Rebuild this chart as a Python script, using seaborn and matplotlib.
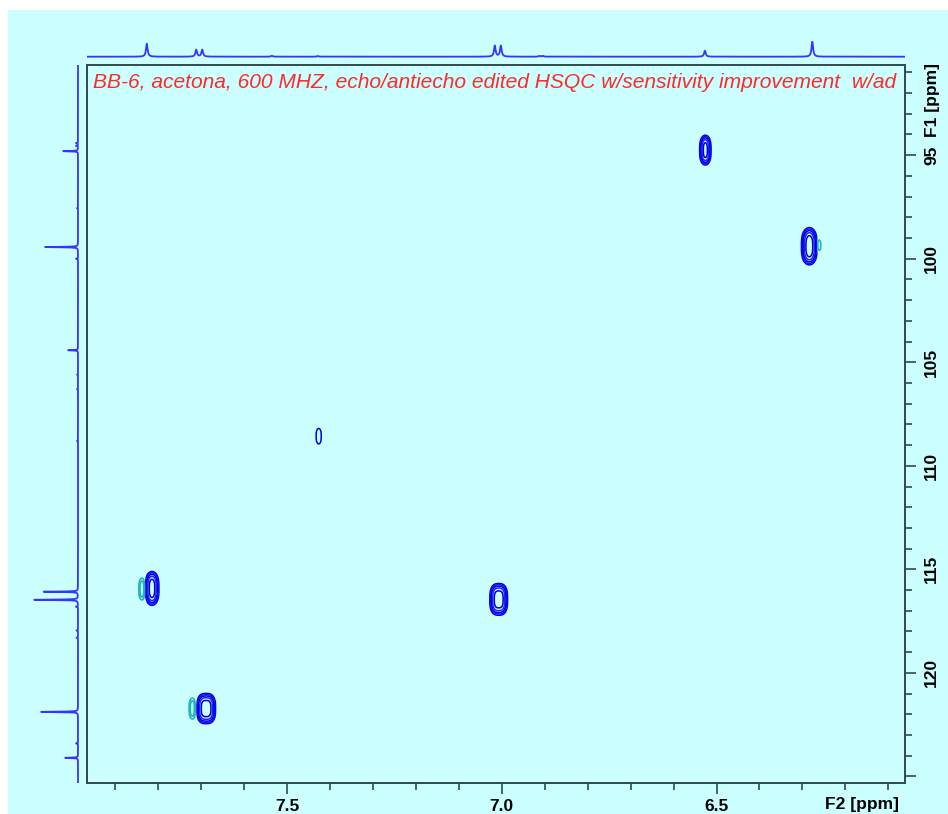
import numpy as np
import pandas as pd
import matplotlib
matplotlib.use("Agg")
import matplotlib.pyplot as plt
from matplotlib.patches import Rectangle
import seaborn as sns

# ---------------- data ----------------
title_text = "BB-6, acetona, 600 MHZ, echo/antiecho edited HSQC w/sensitivity improvement  w/ad"

# 1H projection (F2): peak positions (ppm) and heights
h_ppm = [7.826, 7.711, 7.697, 7.535, 7.428, 7.016, 7.002, 6.912, 6.904, 6.527, 6.277]
h_int = [13.0, 7.0, 7.0, 0.9, 0.7, 11.0, 11.0, 0.8, 0.8, 6.0, 15.0]

# 13C projection (F1): peak positions (ppm) and heights
c_ppm = [94.42, 94.55, 94.81, 97.56, 99.44, 100.0, 104.42, 105.6, 106.3, 108.8,
         116.08, 116.47, 116.8, 117.95, 118.3, 121.88, 123.4, 124.1]
c_int = [2.0, 2.0, 15.0, 1.0, 33.0, 2.0, 10.0, 1.0, 1.0, 1.0,
         35.0, 44.0, 2.0, 1.5, 1.5, 37.0, 2.0, 13.0]

# HSQC cross peaks: F2 (1H) ppm, F1 (13C) ppm, amplitude, J split, line widths
cp_f2 = [7.814, 7.688, 7.426, 7.007, 6.526, 6.284, 7.837, 7.720, 6.262]
cp_f1 = [115.92, 121.72, 108.57, 116.45, 94.76, 99.40, 115.95, 121.72, 99.35]
cp_amp = [1.0, 1.0, 0.09, 1.0, 0.9, 1.1, -0.16, -0.16, -0.10]
cp_split = [0.004, 0.013, 0.0, 0.012, 0.003, 0.006, 0.0, 0.0, 0.0]
cp_wf2 = [0.0065, 0.0068, 0.0065, 0.0065, 0.0055, 0.0070, 0.0050, 0.0050, 0.0040]
cp_wf1 = [0.46, 0.41, 0.40, 0.43, 0.41, 0.50, 0.40, 0.38, 0.25]

pos_levels = [0.06, 0.11, 0.2, 0.36, 0.65]
neg_levels = [-0.10, -0.05]

f2_lim = (7.966, 6.062)
f1_lim = (125.30, 90.65)

# ---------------- style ----------------
sns.set_style("ticks")
plt.rcParams["font.family"] = ["Liberation Sans", "DejaVu Sans"]

W, H = 948, 814
BG = "#ccffff"
FRAME = "#2f4a4a"
LINE = "#3535ff"

fig = plt.figure(figsize=(W / 100, H / 100), dpi=100, facecolor="white")
fig.patches.append(Rectangle((8 / W, 0), 1, (H - 10) / H, transform=fig.transFigure,
                             facecolor=BG, edgecolor="none", zorder=-10))


def rect(l, t, r, b):
    return [l / W, 1 - b / H, (r - l) / W, (b - t) / H]


ax = fig.add_axes(rect(86.7, 65, 904.7, 782.7))
ax_top = fig.add_axes(rect(86.7, 36, 904.7, 58))
ax_left = fig.add_axes(rect(28, 65, 80, 782.7))

# ---------------- 2D contours ----------------
g2 = np.linspace(6.05, 7.98, 2400)
g1 = np.linspace(90.5, 125.5, 1400)
Z = np.zeros((g1.size, g2.size))
for x0, y0, a, j, sx, sy in zip(cp_f2, cp_f1, cp_amp, cp_split, cp_wf2, cp_wf1):
    if j > 0:
        gx = (np.exp(-0.5 * ((g2 - x0 - j / 2) / sx) ** 2) + np.exp(-0.5 * ((g2 - x0 + j / 2) / sx) ** 2))
        gx = gx / gx.max()
    else:
        gx = np.exp(-0.5 * ((g2 - x0) / sx) ** 2)
    gy = np.exp(-0.5 * np.abs((g1 - y0) / sy) ** 3)
    Z += a * np.outer(gy, gx)

ax.set_facecolor("none")
ax.contour(g2, g1, Z, levels=pos_levels, colors=["#0000e6", "#1010ff", "#0000d0", "#2020ff", "#0000c8"],
           linewidths=1.1, linestyles="solid")
ax.contour(g2, g1, Z, levels=neg_levels, colors="#22b5b5", linewidths=1.2, linestyles="solid")
ax.set_xlim(*f2_lim)
ax.set_ylim(*f1_lim)

for s in ax.spines.values():
    s.set_color(FRAME)
    s.set_linewidth(1.4)
    s.set_visible(True)

ax.xaxis.set_major_locator(matplotlib.ticker.FixedLocator([7.5, 7.0, 6.5]))
ax.xaxis.set_minor_locator(matplotlib.ticker.FixedLocator(np.round(np.arange(6.1, 7.95, 0.1), 2)))
ax.xaxis.set_major_formatter(matplotlib.ticker.FormatStrFormatter("%.1f"))
ax.yaxis.tick_right()
ax.yaxis.set_major_locator(matplotlib.ticker.FixedLocator([95, 100, 105, 110, 115, 120, 125]))
ax.yaxis.set_minor_locator(matplotlib.ticker.FixedLocator(list(range(91, 126))))
ax.yaxis.set_major_formatter(matplotlib.ticker.FuncFormatter(lambda v, p: "" if v >= 125 else f"{v:.0f}"))
ax.tick_params(axis="both", which="major", direction="out", length=8, width=1.2, color=FRAME,
               labelsize=12.5, labelcolor="black")
ax.tick_params(axis="both", which="minor", direction="out", length=5, width=1.2, color=FRAME)
ax.tick_params(axis="x", which="major", pad=4)
ax.tick_params(axis="y", which="major", pad=6, labelrotation=90)
for lbl in ax.get_xticklabels() + ax.get_yticklabels():
    lbl.set_fontweight("bold")
for lbl in ax.get_yticklabels():
    lbl.set_va("center")
ax.set_xlabel("")
ax.set_ylabel("")

ax.text(0.0077, 0.975, title_text, transform=ax.transAxes, color="#ff2a2a", fontsize=15.15,
        fontstyle="italic", va="center", ha="left", clip_on=True)

fig.text(933 / W, 1 - 100 / H, "F1 [ppm]", rotation=90, ha="center", va="center",
         fontsize=12.5, fontweight="bold", color="black")
fig.text(862 / W, 1 - 805 / H, "F2 [ppm]", ha="center", va="center",
         fontsize=12.5, fontweight="bold", color="black")

# ---------------- 1D projections ----------------
hx = np.linspace(f2_lim[1], f2_lim[0], 4000)
hy = np.zeros_like(hx)
for p, a in zip(h_ppm, h_int):
    hy += a / (1 + ((hx - p) / 0.0022) ** 2)
top_df = pd.DataFrame({"ppm": hx, "intensity": hy})
sns.lineplot(data=top_df, x="ppm", y="intensity", ax=ax_top, color=LINE, linewidth=1.3,
             estimator=None, sort=False)
ax_top.set_xlim(*f2_lim)
ax_top.set_ylim(-1.3, 20.7)
ax_top.axis("off")

cy = np.linspace(f1_lim[1], f1_lim[0], 9000)
cx = np.zeros_like(cy)
for p, a in zip(c_ppm, c_int):
    cx += a / (1 + ((cy - p) / 0.012) ** 2)
left_df = pd.DataFrame({"ppm": cy, "intensity": cx})
sns.lineplot(data=left_df, x="intensity", y="ppm", ax=ax_left, color=LINE, linewidth=1.3,
             estimator=None, sort=False, orient="y")
ax_left.set_ylim(*f1_lim)
ax_left.set_xlim(50, -2)
ax_left.axis("off")

fig.savefig("out.png", dpi=100, facecolor=fig.get_facecolor())
